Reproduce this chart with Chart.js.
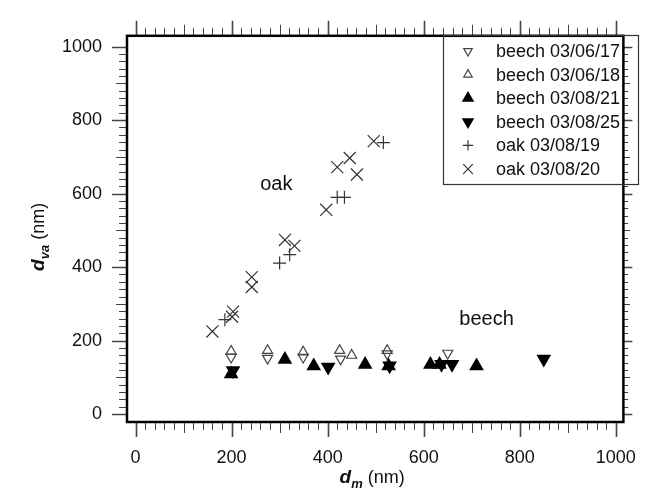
<!DOCTYPE html>
<html>
<head>
<meta charset="utf-8">
<script src="https://cdn.jsdelivr.net/npm/chart.js@4/dist/chart.umd.min.js"></script>
<style>
  html, body { margin: 0; padding: 0; background: #fff; }
  #wrap { width: 661px; height: 491px; }
</style>
</head>
<body>
<div id="wrap"><canvas id="chart" width="661" height="491"></canvas></div>
<script>
// d_va vs d_m for beech and oak particles

const FONT = '"Liberation Sans", Arial, Helvetica, sans-serif';
const TICK_VALUES = [0, 200, 400, 600, 800, 1000];
const MINOR_STEP = 20;

const beech0617Dm  = [199, 275, 349, 427, 524, 650];
const beech0617Dva = [155, 152, 155, 150, 164, 166];

const beech0618Dm  = [199, 275, 349, 425, 450, 524];
const beech0618Dva = [171, 173, 169, 173, 160, 173];

const beech0821Dm  = [199, 311, 371, 478, 527, 614, 633, 710];
const beech0821Dva = [109, 149, 131, 135, 131, 135, 135, 131];

const beech0825Dm  = [203, 401, 529, 637, 659, 850];
const beech0825Dva = [119, 128, 132, 136, 136, 150];

const oak0819Dm  = [186, 300, 321, 420, 435, 516];
const oak0819Dva = [257, 411, 434, 590, 590, 739];

const oak0820Dm  = [160, 201, 203, 242, 242, 311, 331, 397, 420, 446, 461, 496];
const oak0820Dva = [225, 265, 279, 346, 373, 474, 458, 556, 672, 697, 652, 743];

const SERIES_LABELS = ['beech 03/06/17', 'beech 03/06/18', 'beech 03/08/21',
                       'beech 03/08/25', 'oak 03/08/19', 'oak 03/08/20'];

// text labels placed in data coordinates
const NOTES = [
  { text: 'oak', x: 293, y: 625 },
  { text: 'beech', x: 731, y: 257 }
];

function pts(xs, ys) {
  return xs.map((x, i) => ({ x: x, y: ys[i] }));
}

const openTri = { backgroundColor: 'rgba(0,0,0,0)', borderColor: '#444', borderWidth: 1.2, pointRadius: 5.8 };
const fillTri = { backgroundColor: '#000', borderColor: '#000', borderWidth: 0, pointRadius: 8.5 };

const datasets = [
  Object.assign({ label: SERIES_LABELS[0], data: pts(beech0617Dm, beech0617Dva), pointStyle: 'triangle', rotation: 180 }, openTri),
  Object.assign({ label: SERIES_LABELS[1], data: pts(beech0618Dm, beech0618Dva), pointStyle: 'triangle', rotation: 0 }, openTri),
  Object.assign({ label: SERIES_LABELS[2], data: pts(beech0821Dm, beech0821Dva), pointStyle: 'triangle', rotation: 0 }, fillTri),
  Object.assign({ label: SERIES_LABELS[3], data: pts(beech0825Dm, beech0825Dva), pointStyle: 'triangle', rotation: 180 }, fillTri),
  { label: SERIES_LABELS[4], data: pts(oak0819Dm, oak0819Dva), pointStyle: 'cross', rotation: 0,
    backgroundColor: '#333', borderColor: '#333', borderWidth: 1.2, pointRadius: 6.5 },
  { label: SERIES_LABELS[5], data: pts(oak0820Dm, oak0820Dva), pointStyle: 'crossRot', rotation: 0,
    backgroundColor: '#333', borderColor: '#333', borderWidth: 1.2, pointRadius: 8.5 }
];

// frame, outward tick marks on all four sides, axis titles, notes, boxed legend
const frameAndTicks = {
  id: 'frameAndTicks',
  afterDatasetsDraw(chart) {
    const ctx = chart.ctx;
    const a = chart.chartArea;
    const xs = chart.scales.x, ys = chart.scales.y;
    const last = TICK_VALUES[TICK_VALUES.length - 1];

    ctx.save();
    ctx.strokeStyle = '#444';
    for (let v = TICK_VALUES[0]; v <= last; v += MINOR_STEP) {
      const len = v % 200 === 0 ? 15 : (v % 100 === 0 ? 11 : 8);
      ctx.lineWidth = v % 200 === 0 ? 1.6 : 1;
      const px = Math.round(xs.getPixelForValue(v)) + 0.5;
      const py = Math.round(ys.getPixelForValue(v)) + 0.5;
      ctx.beginPath();
      ctx.moveTo(px, a.bottom); ctx.lineTo(px, a.bottom + len);
      ctx.moveTo(px, a.top); ctx.lineTo(px, a.top - len);
      ctx.moveTo(a.left, py); ctx.lineTo(a.left - len, py);
      ctx.moveTo(a.right, py); ctx.lineTo(a.right + len * 0.6, py);
      ctx.stroke();
    }

    ctx.strokeStyle = '#000';
    ctx.lineWidth = 2.5;
    ctx.strokeRect(a.left, a.top, a.right - a.left, a.bottom - a.top);

    // notes
    ctx.fillStyle = '#111';
    ctx.font = '20px ' + FONT;
    ctx.textAlign = 'center';
    ctx.textBaseline = 'middle';
    NOTES.forEach(n => {
      ctx.fillText(n.text, xs.getPixelForValue(n.x), ys.getPixelForValue(n.y));
    });

    // axis titles with subscripts
    drawTitle(ctx, 'd', 'm', ' (nm)', (a.left + a.right) / 2 - 3, 483, 0);
    drawTitle(ctx, 'd', 'va', ' (nm)', 44, (a.top + a.bottom) / 2 + 8, -Math.PI / 2);

    // legend
    const lx = 443.5, ly = 35.5, lw = 195, lh = 149;
    ctx.strokeStyle = '#333';
    ctx.lineWidth = 1.2;
    ctx.strokeRect(lx, ly, lw, lh);
    ctx.font = '18px ' + FONT;
    ctx.textAlign = 'left';
    ctx.textBaseline = 'middle';
    chart.data.datasets.forEach((ds, i) => {
      const y = 51 + i * 23.6;
      ctx.fillStyle = ds.backgroundColor;
      ctx.strokeStyle = ds.borderColor;
      ctx.lineWidth = ds.borderWidth;
      Chart.helpers.drawPoint(ctx, {
        pointStyle: ds.pointStyle, rotation: ds.rotation,
        radius: ds.pointRadius * (ds.pointStyle === 'triangle' ? 0.85 : 0.8),
        borderWidth: ds.borderWidth
      }, 468, y);
      ctx.fillStyle = '#111';
      ctx.fillText(ds.label, 496, y + 1);
    });
    ctx.restore();
  }
};

function drawTitle(ctx, main, sub, rest, cx, cy, rot) {
  const fMain = 'italic bold 19px ' + FONT;
  const fSub = 'italic bold 13px ' + FONT;
  const fRest = '18px ' + FONT;
  ctx.save();
  ctx.font = fMain; const w1 = ctx.measureText(main).width;
  ctx.font = fSub; const w2 = ctx.measureText(sub).width;
  ctx.font = fRest; const w3 = ctx.measureText(rest).width;
  const total = w1 + w2 + w3;
  ctx.translate(cx, cy);
  ctx.rotate(rot);
  ctx.fillStyle = '#111';
  ctx.textAlign = 'left';
  ctx.textBaseline = 'alphabetic';
  let x = -total / 2;
  ctx.font = fMain; ctx.fillText(main, x, 0); x += w1;
  ctx.font = fSub; ctx.fillText(sub, x, 5); x += w2;
  ctx.font = fRest; ctx.fillText(rest, x, 0);
  ctx.restore();
}

new Chart(document.getElementById('chart'), {
  type: 'scatter',
  data: { datasets: datasets },
  options: {
    responsive: false,
    animation: false,
    layout: { padding: { top: 30, right: 12, left: 0, bottom: 0 } },
    plugins: { legend: { display: false }, tooltip: { enabled: false } },
    scales: {
      x: {
        type: 'linear', min: -17.8, max: 1015.8,
        grid: { display: false, drawTicks: false },
        border: { display: false },
        afterBuildTicks: s => { s.ticks = TICK_VALUES.map(v => ({ value: v })); },
        afterFit: s => { s.height = 69; },
        ticks: { font: { family: FONT, size: 18 }, color: '#111', padding: 25, maxRotation: 0, autoSkip: false,
                 callback: v => String(v) }
      },
      y: {
        type: 'linear', min: -21.4, max: 1029.5,
        grid: { display: false, drawTicks: false },
        border: { display: false },
        afterBuildTicks: s => { s.ticks = TICK_VALUES.map(v => ({ value: v })); },
        afterFit: s => { s.width = 127; },
        ticks: { font: { family: FONT, size: 18 }, color: '#111', padding: 25, autoSkip: false,
                 callback: v => String(v) }
      }
    }
  },
  plugins: [frameAndTicks]
});
</script>
</body>
</html>
